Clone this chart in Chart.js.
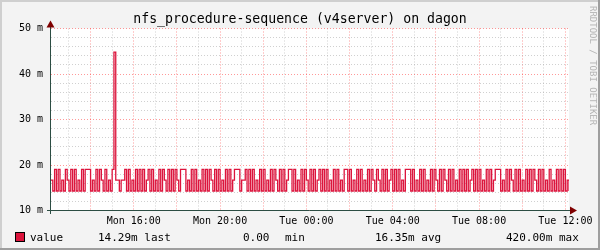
<!DOCTYPE html>
<html>
<head>
<meta charset="utf-8">
<script src="https://cdn.jsdelivr.net/npm/chart.js@4.4.1/dist/chart.umd.min.js"></script>
<style>
body { margin: 0; background: #f3f3f3; }
#wrap { position: relative; width: 600px; height: 250px; font-family: "DejaVu Sans Mono", monospace; color: #000; }
canvas { position: absolute; left: 0; top: 0; }
.t { position: absolute; white-space: pre; line-height: 1; }
.lg { font-size: 11px; top: 232px; }
</style>
</head>
<body>
<div id="wrap">
  <canvas id="chart" width="600" height="250"></canvas>
  <div class="t" style="left:0;width:600px;text-align:center;top:12px;font-size:13.2px">nfs_procedure-sequence (v4server) on dagon</div>
  <div class="t" style="left:597px;top:6px;font-size:9px;color:#b4b4b4;transform-origin:0 0;transform:rotate(90deg)">RRDTOOL / TOBI OETIKER</div>
  <div style="position:absolute;left:15px;top:232px;width:8px;height:8px;background:#dc143c;border:1px solid #000"></div>
  <div class="t lg" style="left:30px">value</div>
  <div class="t lg" style="left:98px">14.29m last</div>
  <div class="t lg" style="left:243px">0.00</div>
  <div class="t lg" style="left:285px">min</div>
  <div class="t lg" style="left:375px">16.35m avg</div>
  <div class="t lg" style="left:506px">420.00m max</div>
</div>
<script>
// 5 minute samples, Mon 12:10 .. Tue 12:10, values in m (milli)
const values = [
    16.67, 14.29, 19.05, 14.29, 19.05, 14.29, 16.67, 14.29, 19.05, 16.67, 14.29, 19.05,
    14.29, 19.05, 14.29, 16.67, 14.29, 19.05, 14.29, 19.05, 19.05, 19.05, 14.29, 16.67,
    14.29, 19.05, 14.29, 19.05, 16.67, 14.29, 19.05, 14.29, 16.67, 14.29, 19.05, 44.80,
    16.67, 16.67, 14.29, 16.67, 16.67, 19.05, 14.29, 19.05, 14.29, 16.67, 14.29, 19.05,
    14.29, 19.05, 14.29, 19.05, 14.29, 16.67, 19.05, 14.29, 19.05, 14.29, 16.67, 14.29,
    19.05, 14.29, 19.05, 16.67, 14.29, 19.05, 14.29, 19.05, 14.29, 19.05, 16.67, 14.29,
    19.05, 19.05, 19.05, 14.29, 16.67, 14.29, 19.05, 14.29, 19.05, 14.29, 16.67, 14.29,
    19.05, 14.29, 19.05, 14.29, 19.05, 16.67, 14.29, 19.05, 14.29, 19.05, 14.29, 16.67,
    14.29, 19.05, 14.29, 19.05, 14.29, 16.67, 19.05, 19.05, 19.05, 14.29, 16.67, 16.67,
    19.05, 14.29, 19.05, 14.29, 19.05, 14.29, 16.67, 14.29, 19.05, 14.29, 19.05, 14.29,
    16.67, 14.29, 19.05, 14.29, 19.05, 16.67, 14.29, 19.05, 14.29, 19.05, 14.29, 16.67,
    19.05, 19.05, 14.29, 19.05, 14.29, 16.67, 14.29, 19.05, 14.29, 19.05, 16.67, 14.29,
    19.05, 14.29, 19.05, 14.29, 16.67, 19.05, 14.29, 19.05, 14.29, 19.05, 14.29, 16.67,
    14.29, 19.05, 14.29, 19.05, 14.29, 16.67, 14.29, 19.05, 19.05, 14.29, 19.05, 14.29,
    16.67, 14.29, 19.05, 14.29, 19.05, 14.29, 16.67, 14.29, 19.05, 14.29, 19.05, 16.67,
    14.29, 19.05, 16.67, 14.29, 19.05, 14.29, 19.05, 14.29, 16.67, 19.05, 14.29, 19.05,
    14.29, 19.05, 14.29, 16.67, 14.29, 19.05, 19.05, 19.05, 14.29, 19.05, 14.29, 16.67,
    14.29, 19.05, 14.29, 19.05, 14.29, 16.67, 14.29, 19.05, 14.29, 19.05, 16.67, 14.29,
    19.05, 14.29, 19.05, 16.67, 14.29, 19.05, 14.29, 19.05, 14.29, 16.67, 14.29, 19.05,
    14.29, 19.05, 14.29, 19.05, 14.29, 16.67, 19.05, 14.29, 19.05, 14.29, 19.05, 14.29,
    16.67, 14.29, 19.05, 14.29, 19.05, 14.29, 16.67, 19.05, 19.05, 19.05, 14.29, 16.67,
    14.29, 19.05, 14.29, 19.05, 16.67, 14.29, 19.05, 14.29, 19.05, 14.29, 16.67, 14.29,
    19.05, 14.29, 19.05, 14.29, 19.05, 16.67, 14.29, 19.05, 14.29, 19.05, 14.29, 16.67,
    14.29, 19.05, 14.29, 16.67, 14.29, 19.05, 14.29, 19.05, 14.29, 19.05, 14.29, 16.67,
    14.29
];
const startHour = 12 + 10 / 60;   // hours since Mon 00:00
const endHour = 36 + 10 / 60;
const stepHours = 5 / 60;

const hourTicks = [13, 14, 15, 16, 17, 18, 19, 20, 21, 22, 23, 24, 25, 26, 27, 28, 29, 30, 31, 32, 33, 34, 35, 36];
const timeLabels = { 16: 'Mon 16:00', 20: 'Mon 20:00', 24: 'Tue 00:00', 28: 'Tue 04:00', 32: 'Tue 08:00', 36: 'Tue 12:00' };
const yTicks = [10, 12, 14, 16, 18, 20, 22, 24, 26, 28, 30, 32, 34, 36, 38, 40, 42, 44, 46, 48, 50];

const points = values.map((v, i) => ({ x: startHour + i * stepHours, y: v }));

const MGRID = 'rgba(255,0,0,0.4)';
const GRID = 'rgba(150,150,150,0.45)';

const rrdLook = {
    id: 'rrdLook',
    beforeDraw(chart) {
        const { ctx, chartArea: a } = chart;
        ctx.save();
        ctx.fillStyle = '#f3f3f3';
        ctx.fillRect(0, 0, 600, 250);
        ctx.fillStyle = '#fff';
        ctx.fillRect(a.left, a.top, a.right - a.left, a.bottom - a.top);
        // frame shading
        ctx.fillStyle = '#cfcfcf';
        ctx.fillRect(0, 0, 600, 2);
        ctx.fillRect(0, 0, 2, 250);
        ctx.fillStyle = '#9e9e9e';
        ctx.fillRect(0, 248, 600, 2);
        ctx.fillRect(598, 0, 2, 250);
        ctx.restore();
    },
    afterDatasetsDraw(chart) {
        const { ctx, chartArea: a } = chart;
        ctx.save();
        ctx.strokeStyle = '#2c4d43';
        ctx.lineWidth = 1;
        ctx.beginPath();
        ctx.moveTo(47, 210.5);
        ctx.lineTo(a.right + 3, 210.5);
        ctx.moveTo(50.5, 214);
        ctx.lineTo(50.5, a.top - 4);
        ctx.stroke();
        ctx.fillStyle = '#7f0000';
        ctx.beginPath();
        ctx.moveTo(a.right + 8, 210.5);
        ctx.lineTo(a.right + 1, 206.5);
        ctx.lineTo(a.right + 1, 214.5);
        ctx.closePath();
        ctx.fill();
        ctx.beginPath();
        ctx.moveTo(50.5, a.top - 8);
        ctx.lineTo(46.5, a.top - 1);
        ctx.lineTo(54.5, a.top - 1);
        ctx.closePath();
        ctx.fill();
        ctx.restore();
    }
};

new Chart(document.getElementById('chart'), {
    type: 'line',
    data: {
        datasets: [{
            label: 'value',
            data: points,
            borderColor: '#dc143c',
            borderWidth: 1.3,
            pointRadius: 0,
            stepped: 'before',
            fill: false
        }]
    },
    options: {
        responsive: false,
        animation: false,
        devicePixelRatio: 1,
        layout: { padding: { left: 0, top: 28.5, right: 31, bottom: 0 } },
        plugins: { legend: { display: false }, title: { display: false }, tooltip: { enabled: false } },
        scales: {
            x: {
                type: 'linear',
                min: startHour,
                max: endHour,
                afterBuildTicks: s => { s.ticks = hourTicks.map(v => ({ value: v })); },
                afterFit: s => { s.height = 39.5; },
                grid: {
                    drawTicks: false,
                    color: c => (c.tick && c.tick.value % 2 === 0 ? MGRID : GRID)
                },
                border: { display: false, dash: [1, 2] },
                ticks: {
                    autoSkip: false,
                    maxRotation: 0,
                    padding: 5,
                    color: '#000',
                    font: { family: 'DejaVu Sans Mono', size: 10 },
                    callback: v => timeLabels[v] || ''
                }
            },
            y: {
                min: 10,
                max: 50,
                afterBuildTicks: s => { s.ticks = yTicks.map(v => ({ value: v })); },
                afterFit: s => { s.width = 51; },
                grid: {
                    drawTicks: false,
                    color: c => (c.tick && c.tick.value % 10 === 0 ? MGRID : GRID)
                },
                border: { display: false, dash: [1, 2] },
                ticks: {
                    autoSkip: false,
                    padding: 8,
                    color: '#000',
                    font: { family: 'DejaVu Sans Mono', size: 10 },
                    callback: v => (v % 10 === 0 ? v + ' m' : '')
                }
            }
        }
    },
    plugins: [rrdLook]
});
</script>
</body>
</html>
